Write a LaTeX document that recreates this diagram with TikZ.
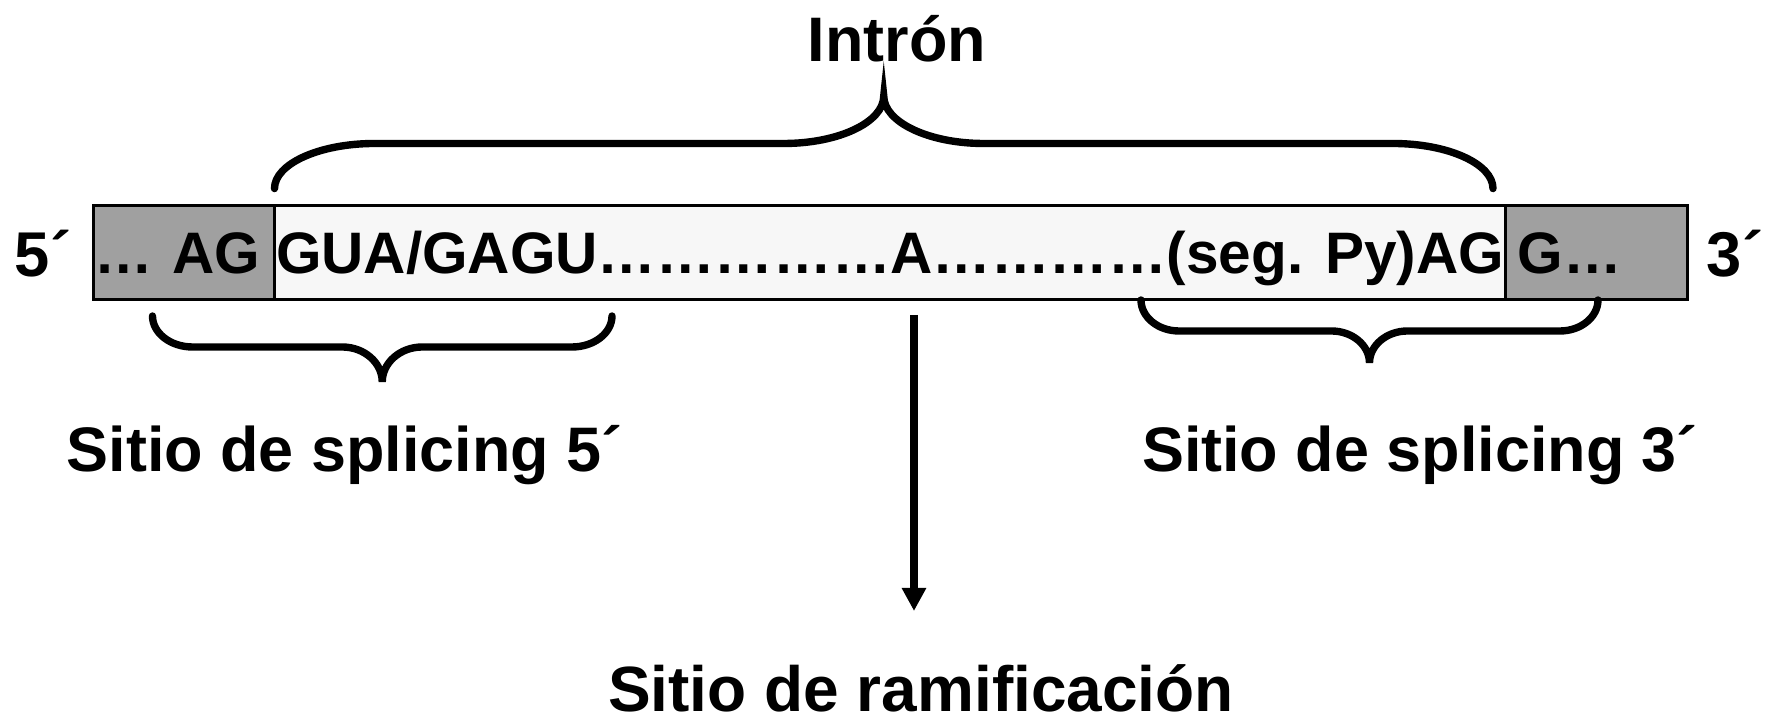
\documentclass[tikz,border=0pt]{standalone}
\usepackage{fontspec}
\setmainfont{Liberation Sans}
\usetikzlibrary{positioning, arrows.meta}

\definecolor{exongris}{RGB}{160,160,160}
\definecolor{intronfondo}{RGB}{247,247,247}

% curly brace: #1 left x, #2 right x, #3 y of the ends, #4 y of the flat part,
% #5 y of the tip, #6 width of the rounded bends
\newcommand{\llave}[6]{%
  \pgfmathsetmacro{\llxm}{(#1+#2)/2}
  \pgfmathsetmacro{\llya}{#3+0.55*((#4)-(#3))}
  \pgfmathsetmacro{\llyb}{#4+0.45*((#5)-(#4))}
  \pgfmathsetmacro{\llxa}{#1+0.45*#6}
  \pgfmathsetmacro{\llxb}{#1+#6}
  \pgfmathsetmacro{\llxc}{\llxm-#6}
  \pgfmathsetmacro{\llxd}{\llxm-0.45*#6}
  \pgfmathsetmacro{\llxe}{\llxm+0.45*#6}
  \pgfmathsetmacro{\llxf}{\llxm+#6}
  \pgfmathsetmacro{\llxg}{#2-#6}
  \pgfmathsetmacro{\llxh}{#2-0.45*#6}
  \draw[corchete] (#1,#3) .. controls (#1,\llya) and (\llxa,#4) .. (\llxb,#4)
    -- (\llxc,#4) .. controls (\llxd,#4) and (\llxm,\llyb) .. (\llxm,#5)
    .. controls (\llxm,\llyb) and (\llxe,#4) .. (\llxf,#4)
    -- (\llxg,#4) .. controls (\llxh,#4) and (#2,\llya) .. (#2,#3);
}

\begin{document}
\begin{tikzpicture}[x=1cm, y=1cm,
    secuencia/.style={draw, line width=0.7pt, outer sep=0pt, minimum height=0.937cm,
      text height=0.42cm, text depth=0cm, font=\fontsize{16.65}{20}\selectfont\bfseries},
    etiqueta/.style={anchor=base, font=\fontsize{17.9}{21}\selectfont\bfseries},
    extremo/.style={anchor=base, font=\fontsize{18}{21}\selectfont\bfseries},
    corchete/.style={line width=2.1pt, line cap=round},
    flecha/.style={line width=2pt, -{Triangle[width=0.23cm, length=0.23cm]}}]
    \useasboundingbox (0,0) rectangle (17.71,-7.20);

    % 1. The pre-mRNA strip: exon - intron - exon
    \node[secuencia, fill=exongris, text width=1.788cm, inner xsep=0.01cm, align=left]
        (exon5) at (1.841,-2.5245) {… AG};
    \node[secuencia, fill=intronfondo, minimum width=12.311cm, inner xsep=0pt, right=0pt of exon5]
        (intron) {GUA/GAGU……………A…………(seg. Py)AG};
    \node[secuencia, fill=exongris, text width=1.579cm, inner xsep=0.12cm, align=left, right=0pt of intron]
        (exon3) {G…};

    % 2. Strand ends
    \node[extremo] (extremo5) at (0.43,-2.77) {5´};
    \node[extremo] (extremo3) at (17.35,-2.77) {3´};

    % 3. Braces
    \llave{2.745}{14.93}{-1.886}{-1.435}{-0.96}{1.0}
    \llave{1.525}{6.12}{-3.16}{-3.47}{-3.82}{0.40}
    \llave{11.41}{15.98}{-3.00}{-3.31}{-3.63}{0.38}

    % 4. Labels
    \node[etiqueta] (titulo) at (8.97,-0.62) {Intrón};
    \node[etiqueta] (sitio5) at (3.445,-4.72) {Sitio de splicing 5´};
    \node[etiqueta] (sitio3) at (14.20,-4.72) {Sitio de splicing 3´};
    \node[etiqueta, font=\fontsize{18.2}{21}\selectfont\bfseries] (ramificacion) at (9.21,-7.115) {Sitio de ramificación};

    % 5. Branch point arrow
    \coordinate (rama) at (9.14,-3.15);
    \coordinate (punta) at (9.14,-6.11);
    \draw[flecha] (rama) -- (punta);
\end{tikzpicture}
\end{document}
